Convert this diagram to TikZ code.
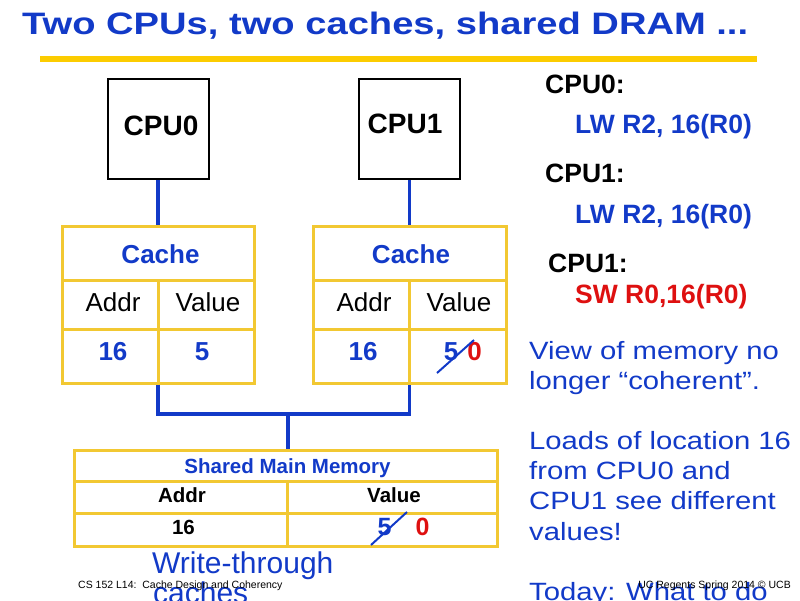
\documentclass[tikz,border=0pt]{standalone}
\usepackage{fontspec}
\setmainfont{Liberation Sans}
\newfontfamily\titlefont[FakeStretch=1.23]{Liberation Sans}
\newfontfamily\bodyfont[FakeStretch=1.17]{Liberation Sans}
\usetikzlibrary{positioning}
\definecolor{slideblue}{RGB}{18,58,200}
\definecolor{slidered}{RGB}{222,16,16}
\definecolor{bargold}{RGB}{252,204,0}
\definecolor{cellgold}{RGB}{242,200,50}

\begin{document}
\begin{tikzpicture}[x=1pt,y=-1pt]
  \useasboundingbox (0,0) rectangle (800,600);
  \clip (0,0) rectangle (800,600);
  \tikzset{cpubox/.style = {draw=black, line width=2pt, minimum width=101pt, minimum height=100pt, inner sep=0pt}}
  \tikzset{table/.style = {draw=cellgold, line width=3pt, inner sep=0pt}}
  \tikzset{cell/.style = {draw=cellgold, line width=3pt}}
  \tikzset{bus/.style = {draw=slideblue, line width=3.5pt}}
  \tikzset{strike/.style = {draw=slideblue, line width=2pt}}
  \tikzset{cputext/.style = {font=\bfseries\fontsize{28}{34}\selectfont, anchor=base, inner sep=0pt}}
  \tikzset{heading/.style = {font=\bfseries\fontsize{26}{31}\selectfont, text=slideblue, anchor=base, inner sep=0pt}}
  \tikzset{colname/.style = {font=\fontsize{26}{31}\selectfont, anchor=base, inner sep=0pt}}
  \tikzset{entry/.style = {font=\bfseries\fontsize{26}{31}\selectfont, text=slideblue, anchor=base, inner sep=0pt}}
  \tikzset{memtext/.style = {font=\bfseries\fontsize{20.5}{25}\selectfont, anchor=base, inner sep=0pt}}
  \tikzset{instr/.style = {font=\bfseries\fontsize{26.5}{32}\selectfont, anchor=base west, inner sep=0pt}}
  \tikzset{body/.style = {font=\bodyfont\fontsize{25}{30}\selectfont, text=slideblue, anchor=base west, inner sep=0pt}}
  \tikzset{footer/.style = {font=\fontsize{10.5}{12}\selectfont, inner sep=0pt}}

  \node[font=\titlefont\bfseries\fontsize{31}{37}\selectfont, text=slideblue, anchor=base west, inner sep=0pt] (title) at (22,34) {Two CPUs, two caches, shared DRAM ...};
  \fill[bargold] (40,56) rectangle (757,62);

  \node[cpubox] (cpuA) at (158,129) {};
  \node[cputext] (cpuAtext) at (161,135) {CPU0};
  \node[cpubox] (cpuB) at (409.5,129) {};
  \node[cputext] (cpuBtext) at (405,133) {CPU1};

  \node[table, minimum width=192pt, minimum height=157pt] (cacheA) at (158,304.5) {};
  \draw[cell] (62,280) -- (254,280);
  \draw[cell] (62,329) -- (254,329);
  \draw[cell] (158,280) -- (158,383);
  \node[heading] (cacheAhead) at (160.5,263) {Cache};
  \node[colname] (cacheAaddr) at (113,311) {Addr};
  \node[colname] (cacheAval) at (208,311) {Value};
  \node[entry] (cacheAkey) at (113,360) {16};
  \node[entry] (cacheAdata) at (202,360) {5};

  \node[table, minimum width=193pt, minimum height=157pt] (cacheB) at (409.5,304.5) {};
  \draw[cell] (313,280) -- (506,280);
  \draw[cell] (313,329) -- (506,329);
  \draw[cell] (409,280) -- (409,383);
  \node[heading] (cacheBhead) at (411,263) {Cache};
  \node[colname] (cacheBaddr) at (364,311) {Addr};
  \node[colname] (cacheBval) at (459,311) {Value};
  \node[entry] (cacheBkey) at (363,360) {16};
  \node[entry] (cacheBold) at (451,360) {5};
  \node[entry, text=slidered] (cacheBnew) at (474.5,360) {0};
  \draw[strike] (437,373) -- (474,340);

  \node[table, minimum width=423pt, minimum height=96pt] (mem) at (285.5,498) {};
  \draw[cell] (74,481) -- (497,481);
  \draw[cell] (74,513) -- (497,513);
  \draw[cell] (287,481) -- (287,546);
  \node[memtext, text=slideblue] (memhead) at (287.5,473) {Shared Main Memory};
  \node[memtext] (memaddr) at (182,502) {Addr};
  \node[memtext] (memval) at (394,502) {Value};
  \node[memtext] (memkey) at (183.5,534) {16};
  \node[memtext, font=\bfseries\fontsize{25}{30}\selectfont, text=slideblue] (memold) at (384.5,535) {5};
  \node[memtext, font=\bfseries\fontsize{25}{30}\selectfont, text=slidered] (memnew) at (422.5,535) {0};
  \draw[strike] (371,545) -- (407,512);

  \coordinate (busmid) at (288,414);
  \draw[bus] (cpuA.south) -- (cacheA.north);
  \draw[bus] (cpuB.south) -- (cacheB.north);
  \draw[bus] (cacheA.south) |- (busmid) -| (cacheB.south);
  \draw[bus] (busmid) -- (busmid |- mem.north);

  \node[instr] (stepA) at (545,93) {CPU0:};
  \node[instr, text=slideblue] (stepAop) at (575,133) {LW R2, 16(R0)};
  \node[instr] (stepB) at (545,182) {CPU1:};
  \node[instr, text=slideblue] (stepBop) at (575,223) {LW R2, 16(R0)};
  \node[instr] (stepC) at (548,272) {CPU1:};
  \node[instr, text=slidered] (stepCop) at (575,303) {SW R0,16(R0)};

  \node[body] (viewA) at (529,359) {View of memory no};
  \node[body] (viewB) at (529,389) {longer “coherent”.};
  \node[body] (loadA) at (529,449) {Loads of location 16};
  \node[body] (loadB) at (529,479) {from CPU0 and};
  \node[body] (loadC) at (529,509) {CPU1 see different};
  \node[body] (loadD) at (529,540) {values!};
  \node[body] (today) at (529,600) {Today: What to do};

  \node[font=\fontsize{30}{30}\selectfont, text=slideblue, anchor=base west, inner sep=0pt] (wtA) at (152,573) {Write-through};
  \node[font=\fontsize{30}{30}\selectfont, text=slideblue, anchor=base west, inner sep=0pt] (wtB) at (153,603) {caches};

  \node[footer, anchor=base west] (course) at (78,588) {CS 152 L14:\ \ Cache Design and Coherency};
  \node[footer, anchor=base east] (credit) at (791,588) {UC Regents Spring 2014 © UCB};
\end{tikzpicture}
\end{document}
